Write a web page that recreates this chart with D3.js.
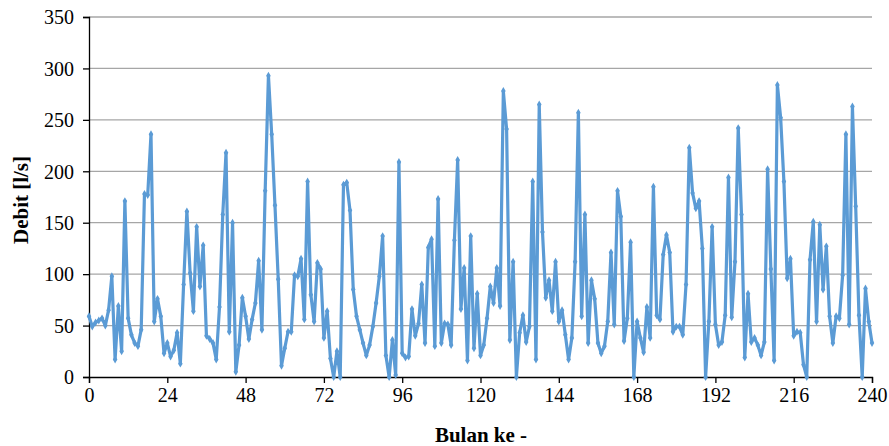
<!DOCTYPE html>
<html>
<head>
<meta charset="utf-8">
<script src="https://cdn.jsdelivr.net/npm/d3@7"></script>
<style>
  body { margin: 0; background: #fff; }
  svg { display: block; }
  .tick text { font-family: "Liberation Serif", "Times New Roman", serif; font-size: 20px; fill: #000; }
  .title { font-family: "Liberation Serif", "Times New Roman", serif; font-size: 21px; font-weight: bold; }
</style>
</head>
<body>
<svg width="889" height="446"></svg>
<script>
// monthly discharge (l/s), month 0..240
const debit = [
  59, 49, 53, 55, 57, 50, 65, 98, 17, 69, 25, 171, 57, 41, 33, 30, 46, 178, 177, 236,
  54, 76, 59, 23, 33, 20, 26, 43, 13, 90, 161, 101, 64, 146, 88, 128, 40, 37, 33, 17,
  68, 158, 218, 44, 150, 5, 31, 77, 59, 37, 56, 72, 113, 46, 181, 293, 236, 167, 95, 11,
  28, 44, 44, 99, 98, 115, 56, 190, 80, 54, 111, 105, 38, 64, 18, 0, 25, 0, 187, 189,
  162, 85, 59, 46, 33, 21, 31, 49, 72, 98, 137, 21, 0, 36, 2, 209, 23, 19, 20, 66,
  40, 52, 90, 33, 126, 134, 30, 173, 33, 52, 51, 31, 133, 211, 66, 106, 16, 137, 28, 81,
  21, 31, 57, 88, 72, 106, 69, 278, 241, 36, 112, 0, 43, 60, 34, 49, 190, 17, 265, 141,
  77, 94, 64, 112, 54, 65, 41, 17, 38, 112, 257, 59, 158, 33, 94, 76, 33, 23, 30, 54,
  121, 51, 181, 156, 35, 57, 131, 0, 54, 38, 24, 68, 38, 185, 60, 56, 119, 138, 121, 44,
  49, 49, 41, 90, 223, 179, 164, 171, 125, 0, 54, 146, 51, 31, 34, 60, 194, 58, 112, 242,
  158, 19, 81, 34, 38, 31, 21, 34, 202, 105, 16, 284, 252, 190, 96, 115, 40, 44, 43, 12,
  0, 114, 151, 54, 148, 85, 127, 59, 33, 59, 57, 99, 236, 51, 263, 166, 60, 0, 86, 54,
  33
];
const xTicks = [0, 24, 48, 72, 96, 120, 144, 168, 192, 216, 240];
const yTicks = [0, 50, 100, 150, 200, 250, 300, 350];
const xLabel = "Bulan ke -";
const yLabel = "Debit [l/s]";

const svg = d3.select("svg");
const margin = { top: 17, right: 17, bottom: 69, left: 89 };
const width = 889 - margin.left - margin.right;
const height = 446 - margin.top - margin.bottom;

const x = d3.scaleLinear().domain([0, 240]).range([0, width]);
const y = d3.scaleLinear().domain([0, 350]).range([height, 0]);

const g = svg.append("g").attr("transform", `translate(${margin.left},${margin.top})`);

// gridlines
g.append("g")
  .selectAll("line")
  .data(yTicks.filter(d => d > 0))
  .enter().append("line")
  .attr("x1", 0).attr("x2", width)
  .attr("y1", d => y(d)).attr("y2", d => y(d))
  .attr("stroke", "#a6a6a6").attr("stroke-width", 1.3);

const xAxis = g.append("g")
  .attr("transform", `translate(0,${height})`)
  .call(d3.axisBottom(x).tickValues(xTicks).tickSize(6).tickPadding(5));
xAxis.select(".domain").attr("stroke", "#000").attr("stroke-width", 1.3);
xAxis.selectAll(".tick line").attr("stroke", "#000").attr("stroke-width", 1.3);

const yAxis = g.append("g")
  .call(d3.axisLeft(y).tickValues(yTicks).tickSize(6).tickPadding(9));
yAxis.select(".domain").attr("stroke", "#000").attr("stroke-width", 1.3);
yAxis.selectAll(".tick line").attr("stroke", "#000").attr("stroke-width", 1.3);
yAxis.selectAll(".tick text").attr("dy", "0.34em");

const line = d3.line()
  .x((d, i) => x(i))
  .y(d => y(d));

g.append("path")
  .datum(debit)
  .attr("fill", "none")
  .attr("stroke", "#5b9bd5")
  .attr("stroke-width", 3.2)
  .attr("stroke-linejoin", "round")
  .attr("d", line);

g.selectAll(".pt")
  .data(debit)
  .enter().append("path")
  .attr("class", "pt")
  .attr("transform", (d, i) => `translate(${x(i)},${y(d)})`)
  .attr("d", d3.symbol().type(d3.symbolDiamond).size(18))
  .attr("fill", "#5b9bd5");

svg.append("text")
  .attr("class", "title")
  .attr("x", 481)
  .attr("y", 442)
  .attr("text-anchor", "middle")
  .text(xLabel);

svg.append("text")
  .attr("class", "title")
  .attr("transform", `translate(28,${margin.top + height / 2 + 3}) rotate(-90)`)
  .attr("text-anchor", "middle")
  .text(yLabel);
</script>
</body>
</html>
